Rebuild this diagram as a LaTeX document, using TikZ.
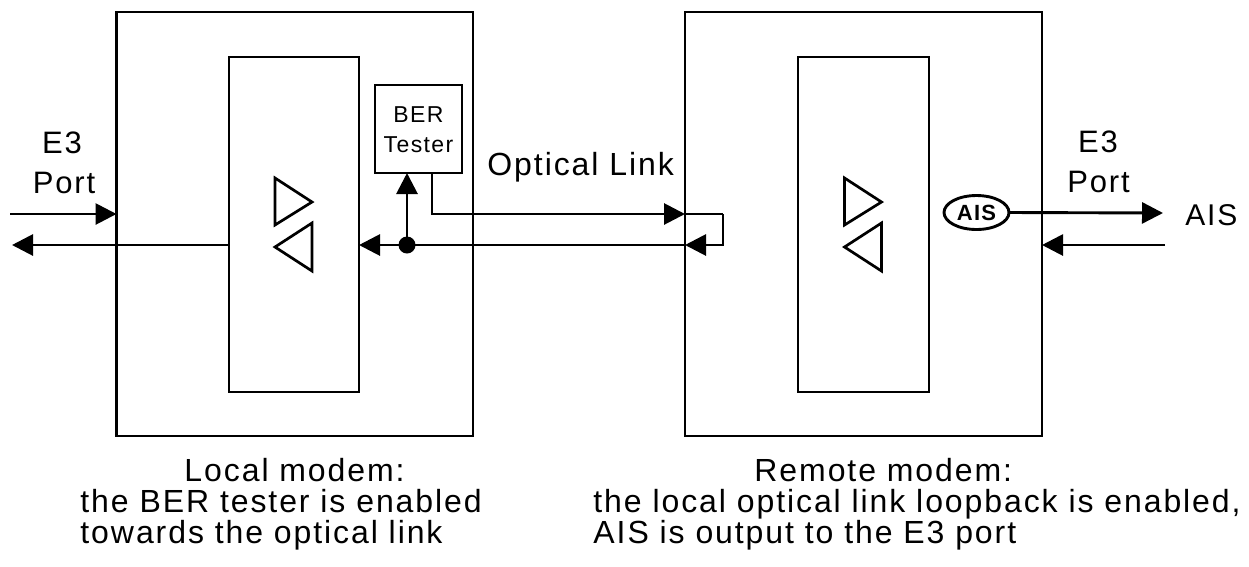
\documentclass[tikz,border=0pt]{standalone}
\usepackage{fontspec}
\setmainfont{Liberation Sans}[LetterSpace=6]
\usetikzlibrary{arrows.meta,shapes.geometric}
\tikzset{
  box/.style={draw, rectangle, inner sep=0pt, outer sep=0pt},
  arr/.style={-{Triangle[length=21pt,width=21pt]}},
  lbl/.style={inner sep=0pt, anchor=base, font=\fontsize{31pt}{33pt}\selectfont},
  captxt/.style={inner sep=0pt, anchor=base west, font=\fontsize{32pt}{34pt}\selectfont},
  small/.style={inner sep=0pt, anchor=base, font=\fontsize{23pt}{25pt}\selectfont},
  tri/.style={line width=2.7pt, line join=miter},
}
\begin{document}
\begin{tikzpicture}[x=1pt,y=-1pt,line width=2.9pt]
\useasboundingbox (0,0) rectangle (1249,566);
% boxes
\node[box, minimum width=356.5pt, minimum height=424pt] (lo) at (294.75,224) {};
\node[box, minimum width=130pt, minimum height=335pt] (li) at (294,224.5) {};
\node[box, minimum width=87pt, minimum height=88pt] (ber) at (418.5,129) {};
\node[box, minimum width=357pt, minimum height=424pt] (ro) at (863.5,224) {};
\node[box, minimum width=131pt, minimum height=335pt] (ri) at (863.5,224.5) {};
% triangles
\draw[tri] (275,178) -- (312,202) -- (275,225) -- cycle;
\draw[tri] (312,223) -- (275,247) -- (312,271) -- cycle;
\draw[tri] (844.5,178) -- (881.5,202) -- (844.5,225) -- cycle;
\draw[tri] (881.5,223) -- (844.5,247) -- (881.5,271) -- cycle;
% texts
\node[small] (bert1) at (418.5,122) {BER};
\node[small] (bert2) at (418.5,152) {Tester};
\node[lbl] (e3l) at (62,153) {E3};
\node[lbl] (portl) at (64,193) {Port};
\node[lbl] (e3r) at (1098,152) {E3};
\node[lbl] (portr) at (1098.5,192) {Port};
\node[inner sep=0pt, anchor=base west, font=\fontsize{32pt}{34pt}\selectfont] (opt) at (486,175) {Optical Link};
\node[inner sep=0pt, anchor=base west, font=\fontsize{30pt}{32pt}\selectfont] (aisout) at (1184,225) {AIS};
\node[draw, ellipse, inner sep=0pt, outer sep=0pt, minimum width=65pt, minimum height=34pt, font=\fontsize{22pt}{24pt}\selectfont\bfseries] (ais) at (976.5,212.5) {AIS};
% captions
\node[captxt] (c1) at (183,481) {Local modem:};
\node[captxt] (c2) at (79,512) {the BER tester is enabled};
\node[captxt] (c3) at (79,543) {towards the optical link};
\node[captxt] (d1) at (753,481) {Remote modem:};
\node[captxt] (d2) at (592,512) {the local optical link loopback is enabled,};
\node[captxt] (d3) at (592,543) {AIS is output to the E3 port};
% coordinates
\coordinate (e3in) at (10,214);
\coordinate (e3out) at (12,245);
\coordinate (berout) at (432,173);
\coordinate (loopT) at (723,214);
\coordinate (loopB) at (723,245);
\coordinate (dot) at (407,245);
\coordinate (aisend) at (1163,213);
\coordinate (e3rin) at (1165,245);
% connectors
\draw[arr] (e3in) -- (e3in -| lo.west);
\draw[arr] (li.west |- loopB) -- (e3out);
\draw[arr] (berout) |- (ro.west |- loopT);
\draw (ro.west |- loopT) -- (loopT);
\draw[arr] (loopT) -- (loopB) -- (ro.west |- loopB);
\draw[arr] (ro.west |- loopB) -- (li.east |- loopB);
\fill (dot) circle (8.5pt);
\draw[arr] (dot) -- (dot |- ber.south);
\draw[arr] (ais.east) -- (aisend);
\draw[arr] (e3rin) -- (e3rin -| ro.east);
\end{tikzpicture}
\end{document}
